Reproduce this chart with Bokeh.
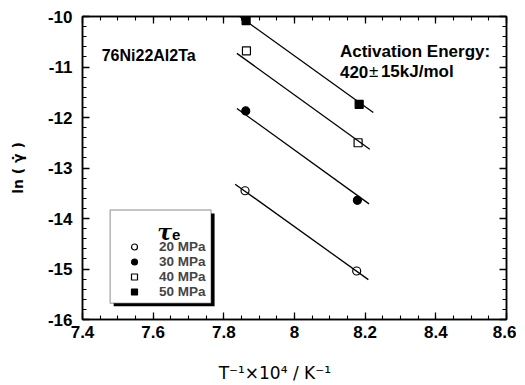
import numpy as np
from bokeh.plotting import figure
from bokeh.models import (Range1d, LinearAxis, FixedTicker, Label, BoxAnnotation,
                          Legend, LegendItem, ColumnDataSource)
from bokeh.embed import file_html
from bokeh.resources import INLINE

# ---------------- data ----------------
stress_labels = ["20 MPa", "30 MPa", "40 MPa", "50 MPa"]
inv_T_x1e4 = [[7.860, 8.176], [7.862, 8.178], [7.864, 8.180], [7.863, 8.183]]
ln_rate = [[-13.45, -15.04], [-11.87, -13.64], [-10.68, -12.50], [-10.08, -11.74]]
fit_x = [[7.832, 8.209], [7.837, 8.211], [7.837, 8.213], [7.837, 8.223]]
fit_y = [[-13.32, -15.21], [-11.82, -13.71], [-10.73, -12.63], [-9.96, -11.90]]
marker_kind = ["circle", "circle", "square", "square"]
marker_filled = [False, True, False, True]

x_ticks = [7.4, 7.6, 7.8, 8.0, 8.2, 8.4, 8.6]
x_tick_labels = ["7.4", "7.6", "7.8", "8", "8.2", "8.4", "8.6"]
y_ticks = [-16, -15, -14, -13, -12, -11, -10]
y_tick_labels = ["-16", "-15", "-14", "-13", "-12", "-11", "-10"]
x_title = "T\u207b\u00b9\u00d710\u2074 /  K\u207b\u00b9\u2003\u2003"
y_title = "ln ( \u03b3\u0307 )"

# ---------------- layout (page pixels) ----------------
FL, FR, FT, FB = 82.3, 506.7, 15.7, 318.3
X0, X1, Y0, Y1 = 7.4, 8.6, -16.0, -10.0


def dx(px):
    return X0 + (px - FL) / (FR - FL) * (X1 - X0)


def dy(py):
    return Y1 - (py - FT) / (FB - FT) * (Y1 - Y0)


FONT = "Liberation Sans"

p = figure(frame_width=424, frame_height=303,
           min_border_left=82, min_border_top=16, min_border_right=10, min_border_bottom=66,
           x_range=Range1d(X0, X1), y_range=Range1d(Y0, Y1),
           output_backend="svg", toolbar_location=None, x_axis_location=None,
           y_axis_location=None)
p.xgrid.visible = False
p.ygrid.visible = False
p.outline_line_color = "black"
p.outline_line_width = 1.5
p.background_fill_color = "white"
p.border_fill_color = "white"

x_minor = [round(v, 3) for v in np.arange(7.4, 8.6001, 0.05)]
y_minor = [round(v, 3) for v in np.arange(-16, -9.999, 0.2)]
xt = FixedTicker(ticks=x_ticks, minor_ticks=x_minor)
yt = FixedTicker(ticks=y_ticks, minor_ticks=y_minor)


def style_axis(ax, show_labels, standoff):
    ax.axis_line_color = "black"
    ax.axis_line_width = 1.5
    ax.major_tick_in = 7
    ax.major_tick_out = 0
    ax.minor_tick_in = 4
    ax.minor_tick_out = 0
    ax.major_tick_line_width = 1.3
    ax.minor_tick_line_width = 1.1
    ax.major_tick_line_color = "black"
    ax.minor_tick_line_color = "black"
    if show_labels:
        ax.major_label_text_font = FONT
        ax.major_label_text_font_style = "bold"
        ax.major_label_text_font_size = "17px"
        ax.major_label_text_color = "black"
        ax.major_label_standoff = standoff
    else:
        ax.major_label_text_font_size = "1px"
        ax.major_label_text_color = None
        ax.major_label_standoff = 0


xb = LinearAxis(ticker=xt, major_label_overrides=dict(zip(x_ticks, x_tick_labels)),
                axis_label=x_title)
style_axis(xb, True, 6)
xb.axis_label_text_font = "DejaVu Sans"
xb.axis_label_text_font_style = "normal"
xb.axis_label_text_font_size = "17px"
xb.axis_label_text_color = "black"
xb.axis_label_standoff = 22
p.add_layout(xb, "below")
xa = LinearAxis(ticker=xt)
style_axis(xa, False, 0)
p.add_layout(xa, "above")
yl = LinearAxis(ticker=yt, major_label_overrides=dict(zip(y_ticks, y_tick_labels)),
                axis_label=y_title)
style_axis(yl, True, 10)
yl.axis_label_text_font = "DejaVu Sans"
yl.axis_label_text_font_style = "bold"
yl.axis_label_text_font_size = "14px"
yl.axis_label_text_color = "black"
yl.axis_label_standoff = 19
p.add_layout(yl, "left")
yr = LinearAxis(ticker=yt)
style_axis(yr, False, 0)
p.add_layout(yr, "right")

# ---------------- fit lines and points ----------------
renderers = []
for i, lab in enumerate(stress_labels):
    p.line(x=fit_x[i], y=fit_y[i], line_color="black", line_width=1.3)
for i, lab in enumerate(stress_labels):
    src = ColumnDataSource(dict(x=inv_T_x1e4[i], y=ln_rate[i]))
    r = p.scatter("x", "y", source=src, marker=marker_kind[i], size=8,
                  line_color="black", line_width=1.2,
                  fill_color="black" if marker_filled[i] else None)
    renderers.append(r)

# ---------------- legend box with shadow ----------------
p.add_layout(BoxAnnotation(left=dx(113.5), right=dx(214.5), top=dy(212.5), bottom=dy(305),
                           fill_color="black", fill_alpha=1, line_color=None))
p.add_layout(BoxAnnotation(left=dx(110), right=dx(211), top=dy(209), bottom=dy(302),
                           fill_color="white", fill_alpha=1, line_color="black",
                           line_width=1.5))

legend = Legend(items=[LegendItem(label=lab, renderers=[r])
                       for lab, r in zip(stress_labels, renderers)],
                location=(124.3 - FL, FB - 298.5), padding=0, spacing=0, margin=0,
                glyph_width=20, glyph_height=15, label_height=15, label_standoff=15,
                label_text_font=FONT, label_text_font_style="bold",
                label_text_font_size="13.5px", border_line_color=None,
                background_fill_color=None)
p.add_layout(legend)


def ptxt(s, px, py, size, style="bold", font=FONT):
    p.add_layout(Label(x=dx(px), y=dy(py), text=s, text_font=font,
                       text_font_size=f"{size}px", text_font_style=style,
                       text_baseline="alphabetic", text_align="left",
                       text_color="black"))


# legend title tau_e
ptxt("τ", 157, 231, 22, style="bold italic", font="DejaVu Serif")
ptxt("e", 172, 234, 15)

# annotations inside the plot
ptxt("76Ni22Al2Ta", 101.5, 55, 16)
ptxt("Activation Energy:", 340, 50.7, 17)
ptxt("420", 340, 70.7, 17)
ptxt("±", 369, 70.7, 17, style="normal")
ptxt("15kJ/mol", 381, 70.7, 17)

open("out.html", "w").write(file_html(p, INLINE))
